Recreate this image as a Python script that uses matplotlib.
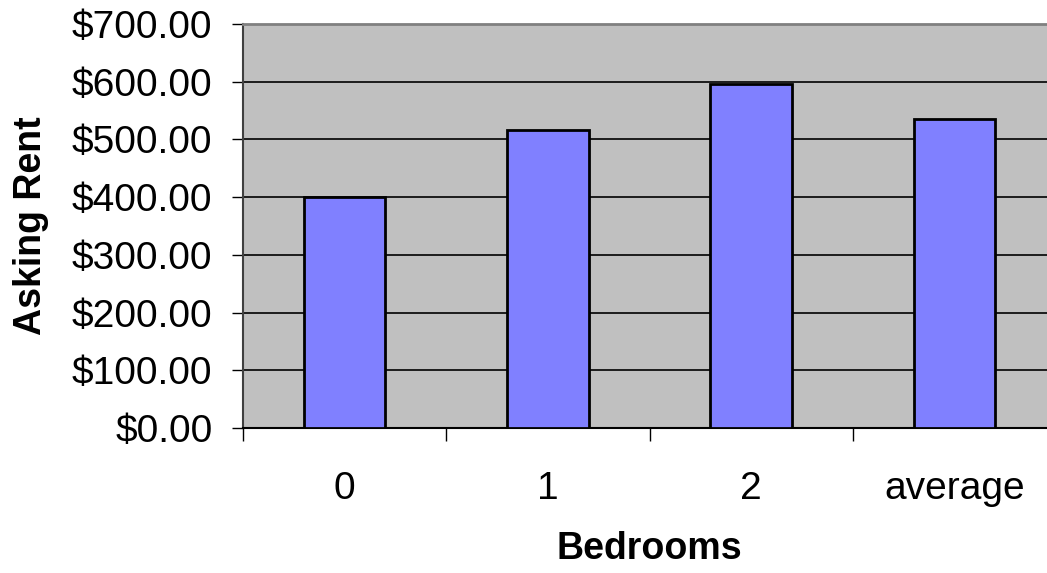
import matplotlib
matplotlib.use("Agg")
import matplotlib.pyplot as plt
from matplotlib.ticker import FuncFormatter, FixedLocator

plt.rcParams['font.family'] = ['Liberation Sans', 'DejaVu Sans']

categories = ["0", "1", "2", "average"]
asking_rent = [401, 516, 596, 536]
y_ticks = [0, 100, 200, 300, 400, 500, 600, 700]

fig = plt.figure(figsize=(10.47, 5.73), dpi=100)
ax = fig.add_axes([243 / 1047, 1 - 428 / 573, 813 / 1047, 404 / 573])
ax.set_facecolor("#C0C0C0")

x = list(range(len(categories)))
ax.bar(x, asking_rent, width=0.4, color="#8080FF", edgecolor="black",
       linewidth=2, zorder=3)

ax.set_xlim(-0.5, len(categories) - 0.5)
ax.set_ylim(0, 700)
ax.set_yticks(y_ticks)
ax.yaxis.set_major_formatter(FuncFormatter(lambda v, p: f"${v:,.2f}"))
ax.grid(axis="y", color="black", linewidth=1.2, zorder=1)

ax.set_xticks(x)
ax.set_xticklabels(categories)
ax.xaxis.set_minor_locator(FixedLocator([i - 0.5 for i in range(len(categories) + 1)]))
ax.tick_params(axis="x", which="major", length=0, pad=31, labelsize=28)
ax.tick_params(axis="x", which="minor", length=9, width=1, color="black", direction="out")
ax.tick_params(axis="y", length=8, width=1, color="black", direction="out",
               pad=14, labelsize=28)

for side in ("top", "right"):
    ax.spines[side].set_color("#808080")
    ax.spines[side].set_linewidth(2)
ax.spines["left"].set_color("#404040")
ax.spines["left"].set_linewidth(1.5)
ax.spines["bottom"].set_color("black")
ax.spines["bottom"].set_linewidth(1.5)

ax.set_xlabel("Bedrooms", fontsize=27, fontweight="bold", va="center")
ax.xaxis.set_label_coords(0.5, (428 - 549) / 404)
ax.set_ylabel("Asking Rent", fontsize=27, fontweight="bold", va="center")
ax.yaxis.set_label_coords((31 - 243) / 813, 0.5)

fig.savefig("out.png", dpi=100)
